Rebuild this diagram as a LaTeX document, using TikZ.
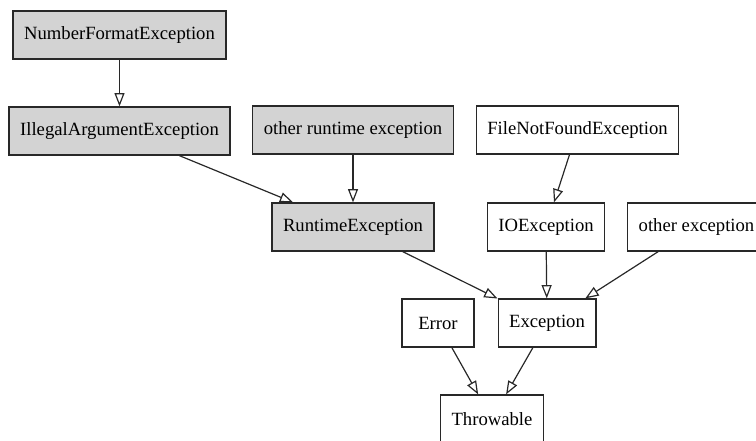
\documentclass[tikz,border=0pt]{standalone}
\usepackage{fontspec}
\setmainfont{Liberation Serif}
\usetikzlibrary{positioning,arrows.meta}
\definecolor{rtfill}{RGB}{211,211,211}
\definecolor{edge}{RGB}{40,40,40}
\tikzset{
  box/.style={draw=edge, line width=0.9pt, fill=white, align=center,
              minimum width=54pt, minimum height=36pt, inner xsep=8.3pt,
              font=\fontsize{14}{16}\selectfont},
  unchecked/.style={box, fill=rtfill},
  inh/.style={-{Triangle[open, length=10pt, width=7.5pt]}, draw=edge,
              line width=0.9pt},
}
\begin{document}
\begin{tikzpicture}[x=0.75pt, y=-0.75pt]
  \useasboundingbox (0,0) rectangle (756,441);

  %% unchecked branch (grey)
  \node[unchecked] (nfe) at (119.5,35)  {NumberFormatException};
  \node[unchecked] (iae) at (119.5,131) {IllegalArgumentException};
  \node[unchecked] (ore) at (353,130)   {other runtime exception};
  \node[unchecked] (rte) at (353,227)   {RuntimeException};

  %% checked branch
  \node[box] (fnf) at (577.5,130) {FileNotFoundException};
  \node[box] (ioe) at (546,227)   {IOException};
  \node[box] (oex) at (696.5,227) {other exception};

  %% roots
  \node[box] (err) at (438,323) {Error};
  \node[box] (exc) at (547,323) {Exception};
  \node[box] (thr) at (492,419) {Throwable};

  \draw[inh] (nfe) -- (iae);
  \draw[inh] (iae) -- (rte);
  \draw[inh] (ore) -- (rte);
  \draw[inh] (fnf) -- (ioe);
  \draw[inh] (rte) -- (exc);
  \draw[inh] (ioe) -- (exc);
  \draw[inh] (oex) -- (exc);
  \draw[inh] (err) -- (thr);
  \draw[inh] (exc) -- (thr);
\end{tikzpicture}
\end{document}
